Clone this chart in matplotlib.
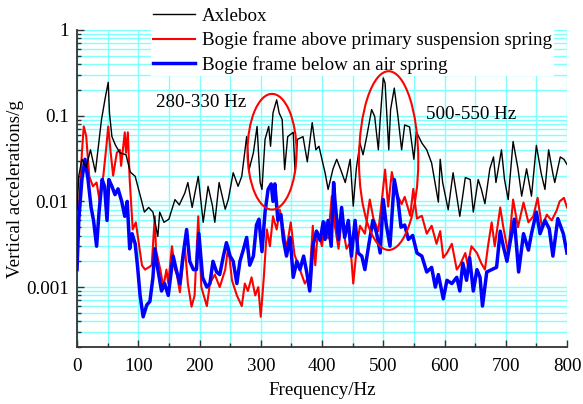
import matplotlib
matplotlib.use("Agg")
import matplotlib.pyplot as plt
from matplotlib.patches import Ellipse
from matplotlib.ticker import FixedLocator, LogLocator, MultipleLocator, NullFormatter

plt.rcParams['font.family'] = ['Liberation Serif', 'DejaVu Serif']

# ---- data (frequency in Hz, vertical acceleration in g) ----
axle_f = [0, 3, 8, 15, 22, 30, 40, 46, 51, 53, 57, 63, 70, 80, 87, 95, 106, 110, 117, 124,
          132, 135, 142, 150, 160, 167, 176, 181, 188, 192, 198, 206, 214, 221, 225, 232, 242,
          247, 255, 263, 269, 277, 281, 288, 294, 299, 302, 307, 313, 316, 320, 326, 330, 335,
          339, 344, 353, 356, 360, 369, 376, 384, 390, 395, 405, 410, 418, 424, 430, 438, 446,
          451, 456, 462, 467, 473, 481, 486, 492, 495, 500, 503, 509, 512, 518, 524, 530, 535,
          543, 550, 554, 563, 571, 579, 590, 593, 597, 606, 614, 620, 625, 634, 642, 647, 655,
          660, 666, 674, 680, 684, 693, 698, 704, 712, 720, 726, 734, 742, 750, 758, 764, 770,
          777, 780, 789, 795, 800]
axle_v = [0.008, 0.02, 0.031, 0.025, 0.04, 0.022, 0.09, 0.16, 0.245, 0.108, 0.057, 0.045, 0.037,
          0.035, 0.022, 0.0196, 0.0098, 0.0075, 0.0085, 0.0075, 0.0039, 0.0075, 0.0057, 0.0062,
          0.0105, 0.0091, 0.0125, 0.0166, 0.0085, 0.012, 0.0196, 0.0057, 0.015, 0.009, 0.0057,
          0.0166, 0.0081, 0.0105, 0.0216, 0.015, 0.0196, 0.057, 0.0235, 0.037, 0.075, 0.0166,
          0.0138, 0.053, 0.075, 0.044, 0.108, 0.153, 0.108, 0.09, 0.0235, 0.057, 0.064, 0.0216,
          0.053, 0.057, 0.029, 0.083, 0.04, 0.044, 0.0216, 0.0138, 0.024, 0.031, 0.024, 0.0166,
          0.031, 0.0088, 0.024, 0.048, 0.035, 0.057, 0.118, 0.098, 0.04, 0.09, 0.276, 0.24, 0.04,
          0.118, 0.21, 0.098, 0.04, 0.078, 0.074, 0.031, 0.065, 0.048, 0.04, 0.028, 0.0098,
          0.031, 0.0166, 0.008, 0.0216, 0.0115, 0.0067, 0.019, 0.018, 0.0075, 0.018, 0.014,
          0.0094, 0.024, 0.033, 0.0166, 0.04, 0.018, 0.0105, 0.05, 0.024, 0.0115, 0.024, 0.0115,
          0.045, 0.021, 0.0138, 0.04, 0.021, 0.0166, 0.033, 0.031, 0.027]

primary_f = [0, 3, 8, 11, 15, 20, 26, 32, 37, 43, 48, 51, 55, 59, 65, 70, 72, 78, 80, 83, 86,
             91, 96, 100, 106, 111, 117, 122, 127, 129, 136, 141, 146, 149, 155, 160, 163, 168,
             176, 181, 187, 192, 195, 198, 203, 212, 217, 225, 233, 242, 247, 253, 261, 269, 274,
             279, 285, 291, 296, 300, 305, 310, 315, 320, 326, 331, 337, 342, 349, 355, 364, 372,
             380, 385, 389, 393, 400, 405, 410, 416, 421, 427, 432, 440, 446, 451, 457, 462, 470,
             478, 484, 492, 497, 503, 508, 514, 521, 530, 535, 544, 549, 555, 563, 571, 579, 587,
             593, 598, 604, 612, 620, 625, 634, 638, 644, 653, 660, 666, 671, 677, 682, 691, 696,
             704, 712, 720, 729, 737, 745, 752, 759, 767, 775, 783, 788, 795, 800]
primary_v = [0.0016, 0.0075, 0.037, 0.075, 0.058, 0.0196, 0.015, 0.0166, 0.01, 0.02, 0.044,
             0.075, 0.037, 0.02, 0.037, 0.04, 0.026, 0.064, 0.037, 0.064, 0.018, 0.0047, 0.0057,
             0.0036, 0.0018, 0.0016, 0.0017, 0.0018, 0.0067, 0.0027, 0.0016, 0.001, 0.0016,
             0.0011, 0.003, 0.0016, 0.0014, 0.00087, 0.003, 0.0011, 0.00059, 0.0008, 0.0024,
             0.0067, 0.001, 0.0006, 0.0011, 0.0014, 0.001, 0.0016, 0.003, 0.0012, 0.0008, 0.0006,
             0.0011, 0.0009, 0.0013, 0.0008, 0.001, 0.00045, 0.0013, 0.0047, 0.003, 0.0067,
             0.0047, 0.008, 0.0047, 0.0028, 0.0057, 0.0024, 0.0016, 0.0011, 0.0014, 0.0052,
             0.0018, 0.0044, 0.003, 0.0057, 0.0037, 0.0115, 0.0052, 0.0028, 0.006, 0.0028,
             0.0033, 0.0011, 0.003, 0.0052, 0.0042, 0.0105, 0.0063, 0.0045, 0.0093, 0.0235,
             0.0087, 0.022, 0.0127, 0.0093, 0.0113, 0.0068, 0.014, 0.0063, 0.0068, 0.0042,
             0.0052, 0.0032, 0.0045, 0.0022, 0.0025, 0.0032, 0.0016, 0.0018, 0.0025, 0.0018,
             0.003, 0.0025, 0.0019, 0.0016, 0.003, 0.0057, 0.003, 0.0085, 0.005, 0.0025, 0.0105,
             0.005, 0.0097, 0.0057, 0.0067, 0.011, 0.005, 0.007, 0.006, 0.0078, 0.01, 0.011,
             0.0085]

air_f = [0, 3, 8, 13, 18, 23, 27, 32, 36, 41, 45, 49, 52, 57, 62, 67, 73, 78, 82, 86, 90, 95,
         99, 103, 108, 114, 119, 124, 127, 132, 138, 143, 149, 157, 162, 168, 173, 179, 184, 190,
         195, 199, 205, 212, 217, 222, 228, 233, 239, 244, 250, 255, 261, 266, 272, 277, 282,
         288, 293, 297, 302, 307, 312, 317, 320, 323, 328, 333, 337, 342, 348, 353, 359, 364,
         370, 375, 380, 385, 391, 397, 402, 405, 410, 415, 419, 421, 427, 432, 437, 443, 448,
         454, 459, 465, 470, 476, 483, 489, 495, 500, 505, 511, 518, 524, 529, 535, 541, 548,
         555, 563, 571, 579, 585, 590, 598, 604, 612, 620, 625, 630, 636, 641, 647, 653, 658,
         662, 669, 677, 685, 691, 696, 702, 707, 714, 721, 729, 737, 742, 750, 756, 764, 771,
         777, 785, 794, 800]
air_v = [0.0016, 0.0062, 0.018, 0.031, 0.018, 0.0085, 0.006, 0.003, 0.0075, 0.018, 0.015, 0.006,
         0.018, 0.015, 0.012, 0.014, 0.01, 0.0067, 0.01, 0.0028, 0.0042, 0.0032, 0.0017, 0.0008,
         0.00045, 0.00062, 0.00068, 0.0013, 0.0028, 0.0016, 0.0009, 0.0011, 0.0008, 0.0023,
         0.0016, 0.0011, 0.0023, 0.0047, 0.002, 0.0016, 0.0016, 0.0042, 0.0013, 0.001, 0.0011,
         0.002, 0.0015, 0.0014, 0.0023, 0.0033, 0.0023, 0.002, 0.0011, 0.002, 0.0028, 0.0038,
         0.0018, 0.0023, 0.0053, 0.0062, 0.0026, 0.0075, 0.0138, 0.016, 0.01, 0.016, 0.006,
         0.007, 0.0036, 0.0023, 0.0038, 0.0013, 0.002, 0.0016, 0.0023, 0.0015, 0.0009, 0.003,
         0.0045, 0.0035, 0.0058, 0.0036, 0.006, 0.003, 0.0166, 0.0105, 0.0036, 0.0085, 0.0038,
         0.006, 0.0023, 0.006, 0.0025, 0.0023, 0.0016, 0.003, 0.006, 0.0043, 0.0025, 0.0105,
         0.0053, 0.003, 0.018, 0.0105, 0.005, 0.0053, 0.0036, 0.004, 0.0025, 0.0023, 0.0015,
         0.0017, 0.001, 0.0014, 0.00073, 0.0012, 0.0011, 0.0013, 0.0009, 0.0019, 0.0012,
         0.0022, 0.0009, 0.0016, 0.0013, 0.0006, 0.0015, 0.0016, 0.0017, 0.0045, 0.003, 0.002,
         0.0033, 0.0062, 0.0015, 0.0042, 0.0027, 0.0042, 0.0075, 0.0042, 0.006, 0.0048, 0.0023,
         0.0063, 0.0042, 0.0025]

series_names = ["Axlebox", "Bogie frame above primary suspension spring",
                "Bogie frame below an air spring"]
band_labels = ["280-330 Hz", "500-550 Hz"]
y_major = [0.001, 0.01, 0.1, 1]
y_labels = ["0.001", "0.01", "0.1", "1"]
x_ticks = [0, 100, 200, 300, 400, 500, 600, 700, 800]

# ---- figure ----
W, H = 583, 404
fig = plt.figure(figsize=(W / 100, H / 100), dpi=100)
ax = fig.add_axes([77 / W, 1 - 347 / H, 490 / W, 317 / H])

grid_c = '#80ffff'
fs = 13.7

ax.plot(axle_f, axle_v, color='black', lw=1.0, label=series_names[0], zorder=4)
ax.plot(primary_f, primary_v, color='#ff0000', lw=1.5, label=series_names[1], zorder=3)
ax.plot(air_f, air_v, color='#0000ff', lw=2.5, label=series_names[2], zorder=3.5)

ax.set_yscale('log')
ax.set_ylim(2e-4, 1)
ax.set_xlim(0, 800)

ax.yaxis.set_major_locator(FixedLocator(y_major))
ax.set_yticklabels(y_labels)
ax.yaxis.set_minor_locator(LogLocator(base=10, subs=[2, 3, 4, 5, 6, 7, 8, 9], numticks=20))
ax.yaxis.set_minor_formatter(NullFormatter())
ax.set_xticks(x_ticks)
ax.xaxis.set_minor_locator(MultipleLocator(50))

ax.grid(True, which='both', color=grid_c, lw=1.0, zorder=0)
ax.set_axisbelow(True)

for s in ['top', 'right']:
    ax.spines[s].set_visible(False)
for s in ['left', 'bottom']:
    ax.spines[s].set_color('#333333')
    ax.spines[s].set_linewidth(1.3)

ax.tick_params(which='major', direction='in', length=5, width=1, labelsize=fs, colors='#333333',
               labelcolor='black')
ax.tick_params(axis='x', which='major', pad=8)
ax.tick_params(axis='y', which='major', pad=6)
ax.tick_params(which='minor', direction='in', length=3, width=1, colors='#333333')

ax.set_xlabel("Frequency/Hz", fontsize=fs, labelpad=5)
ax.set_ylabel("Vertical accelerations/g", fontsize=fs, labelpad=1.5)

# legend (white box hides grid; ellipses drawn above it)
leg = ax.legend(loc='upper left', bbox_to_anchor=(151 / W, 1 - 5 / H),
                bbox_transform=fig.transFigure,
                fontsize=fs, frameon=True, fancybox=False, framealpha=1, edgecolor='none',
                facecolor='white', handlelength=2.2, handletextpad=0.35, labelspacing=0.36,
                borderpad=0.12, borderaxespad=0)
leg.set_zorder(5)

# annotations
ax.text(129, 0.142, band_labels[0], fontsize=fs, ha='left', va='center', zorder=6)
ax.text(569, 0.103, band_labels[1], fontsize=fs, ha='left', va='center', zorder=6)
e1 = Ellipse((0.398, 0.616), 0.100, 0.365, transform=ax.transAxes, fill=False,
             edgecolor='#ff0000', lw=1.5, zorder=7)
e2 = Ellipse((0.636, 0.588), 0.121, 0.564, transform=ax.transAxes, fill=False,
             edgecolor='#ff0000', lw=1.5, zorder=7)
ax.add_patch(e1)
ax.add_patch(e2)

fig.savefig("out.png", dpi=100)
